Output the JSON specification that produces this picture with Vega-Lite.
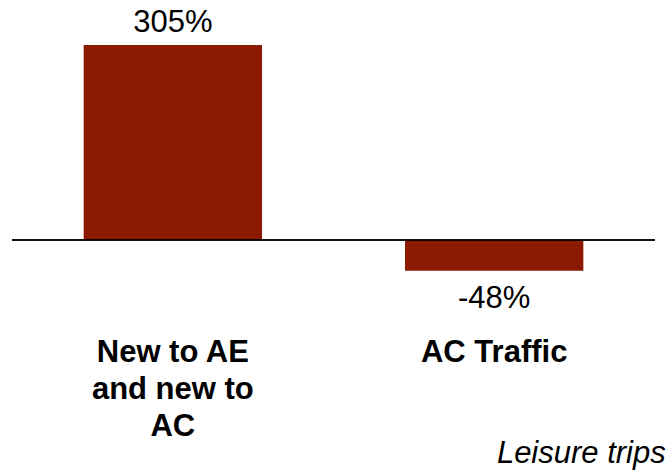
{
  "$schema": "https://vega.github.io/schema/vega-lite/v6.json",
  "width": 643,
  "height": 330,
  "autosize": {"type": "none"},
  "padding": {"left": 12, "top": 0, "right": 13, "bottom": 143},
  "background": "white",
  "config": {"view": {"stroke": null}, "font": "Liberation Sans"},
  "title": {"text": "Leisure trips", "orient": "bottom", "anchor": "end", "fontStyle": "italic", "fontWeight": "normal", "fontSize": 31, "font": "Liberation Sans", "color": "black", "offset": -2, "dx": 10},
  "data": {"values": [
    {"category": "New to AE|and new to|AC", "value": 305, "label": "305%"},
    {"category": "AC Traffic", "value": -48, "label": "-48%"}
  ]},
  "encoding": {
    "x": {"field": "category", "type": "nominal", "sort": null,
      "scale": {"paddingInner": 0.445, "paddingOuter": 0.223},
      "axis": {"title": null, "domain": false, "ticks": false, "labelAngle": 0,
        "labelExpr": "split(datum.label, '|')", "labelFont": "Liberation Sans", "labelFontSize": 31, "labelFontWeight": "bold", "labelColor": "black", "labelLineHeight": 37, "labelLimit": 0, "labelPadding": 7, "labelBaseline": "top"}},
    "y": {"field": "value", "type": "quantitative", "scale": {"domain": [-140.8, 375.4], "nice": false, "zero": false}, "axis": null}
  },
  "layer": [
    {"mark": {"type": "bar", "color": "#8B1A00"}},
    {"mark": {"type": "rule", "color": "black", "strokeWidth": 1.5}, "encoding": {"y": {"datum": 0}, "x": {"value": 0}, "x2": {"value": 643}}},
    {"transform": [{"filter": "datum.value >= 0"}], "mark": {"type": "text", "fontSize": 31, "baseline": "alphabetic", "dy": -13, "color": "black"}, "encoding": {"text": {"field": "label"}}},
    {"transform": [{"filter": "datum.value < 0"}], "mark": {"type": "text", "fontSize": 31, "baseline": "alphabetic", "dy": 37, "color": "black"}, "encoding": {"text": {"field": "label"}}}
  ]
}
